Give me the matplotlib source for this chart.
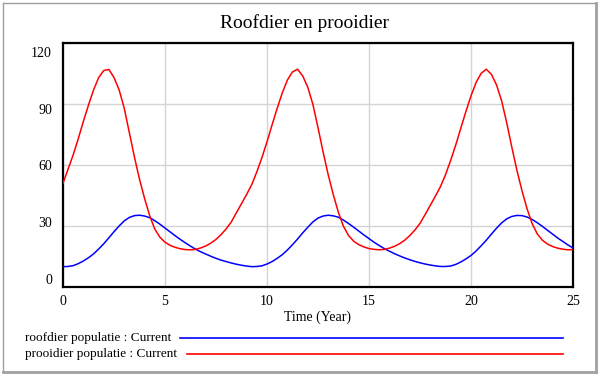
import numpy as np
import matplotlib
matplotlib.use("Agg")
import matplotlib.pyplot as plt
from matplotlib.lines import Line2D
from matplotlib.transforms import ScaledTranslation

# ---------------- data ----------------
title = "Roofdier en prooidier"
x_label = "Time (Year)"
series_names = ["roofdier populatie : Current", "prooidier populatie : Current"]
time_years = [i * 0.25 for i in range(101)]   # 0 .. 25 in steps of 0.25

roofdier = [
    10.0, 10.1, 10.5, 11.5, 12.8, 14.4, 16.3, 18.7, 21.3, 24.2,
    27.2, 30.0, 32.5, 34.2, 35.1, 35.3, 34.9, 34.1, 32.6, 30.9,
    29.0, 27.1, 25.2, 23.4, 21.7, 20.1, 18.6, 17.3, 16.2, 15.1,
    14.1, 13.2, 12.5, 11.8, 11.2, 10.7, 10.3, 10.0,
    10.1, 10.4, 11.3, 12.5, 14.1, 15.9, 18.2, 20.8, 23.6, 26.6,
    29.4, 32.0, 33.9, 34.9, 35.3, 35.0, 34.3, 32.9, 31.2, 29.4,
    27.5, 25.6, 23.8, 22.0, 20.4, 18.9, 17.6, 16.4, 15.3, 14.3,
    13.4, 12.6, 11.9, 11.3, 10.8, 10.4, 10.1,
    10.1, 10.3, 11.1, 12.3, 13.8, 15.5, 17.7, 20.3, 23.0, 26.0,
    28.9, 31.5, 33.5, 34.7, 35.2, 35.1, 34.4, 33.2, 31.6, 29.8,
    27.9, 26.0, 24.1, 22.4, 20.7, 19.2,
]

prooidier = [
    51.0, 58.0, 65.0, 73.0, 81.5, 89.5, 97.0, 103.0, 106.5, 107.0,
    103.0, 97.0, 88.0, 76.0, 64.0, 53.0, 43.5, 35.0, 28.5, 24.5,
    22.0, 20.5, 19.5, 18.8, 18.4, 18.3, 18.5, 19.2, 20.2, 21.6,
    23.4, 25.8, 28.6, 32.0, 36.5, 41.0, 45.5, 50.3,
    56.6, 63.6, 71.4, 79.8, 87.9, 95.5, 101.8, 105.8, 107.1, 103.8,
    98.2, 89.8, 78.4, 66.4, 55.2, 45.4, 36.7, 29.8, 25.3, 22.5,
    20.8, 19.7, 18.9, 18.5, 18.3, 18.5, 19.1, 20.0, 21.3, 23.0,
    25.3, 28.0, 31.3, 35.6, 40.1, 44.6, 49.3,
    55.2, 62.2, 69.8, 78.1, 86.3, 94.0, 100.6, 105.1, 107.1, 104.6,
    99.4, 91.6, 80.8, 68.8, 57.4, 47.3, 38.4, 31.1, 26.1, 23.0,
    21.1, 19.9, 19.1, 18.6, 18.3, 18.4,
]

x_ticks = [0, 5, 10, 15, 20, 25]
y_ticks = [0, 30, 60, 90, 120]

# ---------------- figure ----------------
W, H = 600, 375
fig = plt.figure(figsize=(W / 100, H / 100), dpi=100)
fig.patch.set_facecolor("white")
serif = ["Liberation Serif", "DejaVu Serif"]

L, R, T, B = 63, 573, 43, 287
ax = fig.add_axes([L / W, 1 - B / H, (R - L) / W, (B - T) / H])

colors = ["#0000ff", "#ff0000"]
ax.plot(time_years, roofdier, color=colors[0], lw=1.1, zorder=3)
ax.plot(time_years, prooidier, color=colors[1], lw=1.1, zorder=3)

ax.set_xlim(x_ticks[0], x_ticks[-1])
ax.set_ylim(y_ticks[0], y_ticks[-1])
ax.set_xticks(x_ticks)
ax.set_yticks(y_ticks)
ax.set_xticklabels([str(v) for v in x_ticks], fontfamily=serif, fontsize=10)
ax.set_yticklabels([str(v) for v in y_ticks], fontfamily=serif, fontsize=10)
ax.tick_params(axis="both", length=0, colors="black")
ax.tick_params(axis="x", pad=6)
ax.tick_params(axis="y", pad=8)
ax.grid(True, color="#d4d4d4", lw=1.0, zorder=1)
for s in ax.spines.values():
    s.set_linewidth(1.6)
    s.set_color("black")

# Vensim-style compressed y-label placement
for v, lab in zip(y_ticks, ax.get_yticklabels()):
    dy_px = 8 - v * (17.0 / 120.0)
    lab.set_transform(lab.get_transform() + ScaledTranslation(0, dy_px / 100, fig.dpi_scale_trans))

# title and axis label
fig.text(304 / W, 1 - 23 / H, title, ha="center", va="center", fontsize=14, fontfamily=serif)
fig.text((L + R) / 2 / W, 1 - 317 / H, x_label, ha="center", va="center", fontsize=10, fontfamily=serif)

# legend (manual, Vensim style)
rows_y = [338, 354]
line_start = [180, 187]
for name, c, y, xs in zip(series_names, colors, rows_y, line_start):
    fig.text(25 / W, 1 - y / H, name, ha="left", va="center", fontsize=9.5, fontfamily=serif)
    fig.add_artist(Line2D([xs / W, 563 / W], [1 - y / H, 1 - y / H], color=c, lw=1.2,
                          transform=fig.transFigure))

# outer frame
bc = "#a0a0a0"
fig.add_artist(Line2D([3 / W, 596 / W], [1 - 3 / H, 1 - 3 / H], color=bc, lw=1.0, transform=fig.transFigure))
fig.add_artist(Line2D([3 / W, 3 / W], [1 - 3 / H, 1 - 372 / H], color=bc, lw=1.0, transform=fig.transFigure))
fig.add_artist(Line2D([596 / W, 596 / W], [1 - 3 / H, 1 - 372 / H], color=bc, lw=2.0, transform=fig.transFigure))
fig.add_artist(Line2D([3 / W, 596 / W], [1 - 372 / H, 1 - 372 / H], color=bc, lw=2.0, transform=fig.transFigure))

fig.savefig("out.png", dpi=100)
